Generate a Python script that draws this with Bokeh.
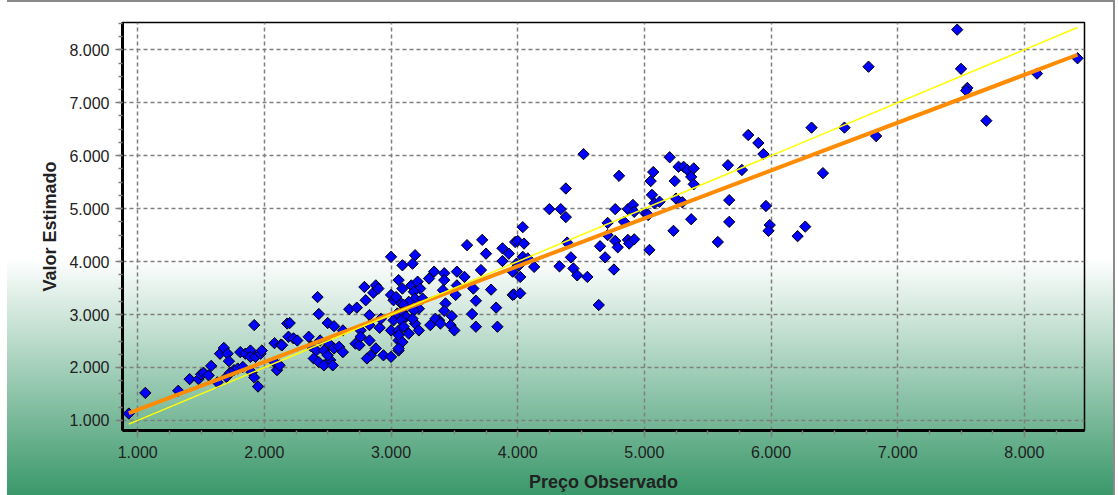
from bokeh.plotting import figure
from bokeh.models import Range1d, SingleIntervalTicker
from bokeh.embed import file_html
from bokeh.resources import INLINE
import numpy as np

# Observed price (x) and estimated value (y)
obs = [930, 1060, 1320, 1410, 1480, 1500, 1520, 1560, 1580, 1630, 1650, 1680, 1710, 1720, 1700, 1730,
       1760, 1790, 1830, 1810, 1850, 1890, 1890, 1930, 1970, 1980, 1920, 1900, 1920, 1950, 2080, 2130,
       2080, 2100, 2120, 2180, 2190, 3000, 2420, 2200, 2430, 2670, 2730, 2790, 2880, 2860, 2900, 2800,
       2830, 2500, 2550, 2620, 2760, 2830, 2910, 2920, 3000, 3020, 2230, 2260, 2350, 2140, 2370, 2410,
       2440, 2470, 2510, 2550, 2590, 2620, 2390, 2430, 2470, 2520, 2540, 2500, 2720, 2750, 2830, 2760,
       2880, 2840, 2810, 2940, 3000, 3060, 3060, 3060, 3050, 3080, 3020, 3000, 3040, 3060, 3090, 3600,
       3720, 3750, 3880, 3930, 3880, 3980, 3090, 3170, 3190, 3160, 3210, 3230, 3180, 3190, 3250, 3140,
       3100, 3220, 3180, 3090, 3120, 3080, 3190, 3170, 3220, 3140, 3100, 3060, 3090, 3060, 3300, 3340,
       3420, 3420, 3520, 3580, 3710, 3520, 3410, 3510, 3650, 3790, 3670, 3430, 3420, 3480, 3380, 3350,
       3310, 3390, 3470, 3500, 3640, 3670, 3830, 3840, 3960, 3960, 3990, 4520, 5200, 4800, 4380, 4250,
       4340, 4380, 4040, 4000, 4050, 4040, 4080, 4010, 4130, 4020, 3970, 4020, 4390, 4420, 4330, 4440,
       4470, 4550, 4640, 4650, 4690, 4760, 4710, 4710, 4770, 4770, 4790, 4840, 4870, 4880, 4920, 4870,
       4910, 4920, 5010, 5040, 5030, 5060, 5080, 5050, 5070, 5120, 5240, 5250, 5300, 5270, 5310, 5340,
       5390, 5370, 5390, 5370, 5230, 5820, 5900, 5940, 5660, 5770, 5670, 5960, 5670, 5580, 5990, 5980,
       6210, 6270, 6320, 6580, 6830, 6410, 7470, 7500, 7550, 7540, 7700, 8100, 8420, 6770]
est = [1130, 1520, 1560, 1780, 1780, 1870, 1900, 1850, 2030, 1720, 2260, 2370, 2260, 2120, 1820, 1900,
       1950, 1980, 2010, 2290, 2260, 2320, 2200, 2200, 2260, 2320, 2800, 1910, 1810, 1640, 2460, 2430,
       2100, 1950, 2040, 2830, 2580, 4090, 3330, 2840, 3010, 3100, 3130, 3520, 3550, 3410, 3490, 3270,
       2990, 2840, 2780, 2700, 2700, 2800, 2750, 2920, 2700, 2890, 2550, 2510, 2580, 2420, 2400, 2320,
       2510, 2320, 2450, 2360, 2390, 2290, 2170, 2100, 2040, 2140, 2040, 2230, 2450, 2420, 2510, 2580,
       2360, 2230, 2170, 2230, 2200, 2320, 2510, 2700, 3020, 3210, 3270, 3370, 3330, 3650, 3490, 4310,
       4410, 4150, 4250, 4150, 4010, 4370, 3930, 3960, 4120, 3550, 3620, 3490, 3430, 3300, 3300, 3240,
       3180, 3110, 3080, 3050, 2960, 2890, 2830, 2920, 2700, 2640, 2770, 2610, 2480, 2360, 3680, 3810,
       3780, 3650, 3810, 3710, 3840, 3550, 3460, 3370, 3490, 3470, 3260, 3210, 3070, 2970, 2890, 2920,
       2800, 2830, 2800, 2700, 3010, 2770, 3130, 2770, 3370, 3810, 3960, 6030, 5970, 5620, 5380, 4990,
       4990, 4840, 4650, 4390, 4340, 4090, 4060, 3930, 3900, 3710, 3380, 3400, 4360, 4080, 3910, 3870,
       3740, 3710, 3180, 4290, 4080, 3850, 4500, 4730, 4990, 4390, 4270, 4750, 4410, 4340, 4420, 4990,
       5070, 4940, 4910, 4220, 4880, 5260, 5100, 5520, 5690, 5130, 5520, 5190, 5120, 5790, 5790, 5730,
       5760, 5600, 5460, 4800, 4580, 6390, 6240, 6030, 5820, 5730, 5160, 5050, 4750, 4370, 4690, 4580,
       4480, 4660, 6530, 6530, 6370, 5670, 8380, 7640, 7280, 7230, 6660, 7550, 7840, 7680]

# Fitted line (orange) and identity line (yellow), end points
fit_x = [930, 8420]
fit_y = [1136, 7906]
ident_x = [930, 8420]
ident_y = [930, 8420]

tick_values = [1000, 2000, 3000, 4000, 5000, 6000, 7000, 8000]
tick_labels = ["1.000", "2.000", "3.000", "4.000", "5.000", "6.000", "7.000", "8.000"]

W, H = 1118, 495
p = figure(width=W, height=H, output_backend="svg", toolbar_location=None,
           x_range=Range1d(880, 8475), y_range=Range1d(810, 8515),
           min_border_left=122, min_border_right=34, min_border_top=22, min_border_bottom=65)

p.background_fill_color = None
p.border_fill_color = None
p.outline_line_color = "black"
p.outline_line_width = 1.5

bg = ("linear-gradient(to right, #ffffff 0px, #ffffff 7px, transparent 7px, transparent 1113px, "
      "#8a8a8a 1113px, #8a8a8a 1115px, #ffffff 1115px), "
      "linear-gradient(to bottom, #8a8a8a 0px, #8a8a8a 2px, transparent 2px), "
      "linear-gradient(to bottom, #ffffff 0px, #ffffff 258px, #3a986a 495px)")
p.styles = {"background": bg}

for ax in (p.xaxis[0], p.yaxis[0]):
    ax.ticker = SingleIntervalTicker(interval=1000, num_minor_ticks=4)
    ax.major_label_overrides = {v: l for v, l in zip(tick_values, tick_labels)}
    ax.axis_line_color = "black"
    ax.axis_line_width = 3
    ax.major_tick_in = 0
    ax.major_tick_out = 7
    ax.major_tick_line_color = "#7f7f7f"
    ax.major_tick_line_width = 1.5
    ax.minor_tick_in = 0
    ax.minor_tick_out = 4
    ax.minor_tick_line_color = "#7f7f7f"
    ax.minor_tick_line_width = 1.5
    ax.major_label_text_font = "Liberation Sans"
    ax.major_label_text_font_size = "16px"
    ax.major_label_text_color = "#222222"
    ax.axis_label_text_font = "Liberation Sans"
    ax.axis_label_text_font_style = "bold"
    ax.axis_label_text_font_size = "18px"
    ax.axis_label_text_color = "#222222"

p.xaxis.axis_label = "Preço Observado"
p.yaxis.axis_label = "Valor Estimado"
p.xaxis.major_label_standoff = 8
p.yaxis.major_label_standoff = 6
p.xaxis.axis_label_standoff = 11
p.yaxis.axis_label_standoff = 6

for g in (p.xgrid[0], p.ygrid[0]):
    g.grid_line_color = "#7f7f7f"
    g.grid_line_dash = "4 3"
    g.grid_line_width = 1.5

p.scatter(obs, est, marker="square", angle=np.pi / 4, size=8,
          fill_color="#0000ff", line_color="black", line_width=1)
p.line(fit_x, fit_y, line_color="#ff8c00", line_width=4)
p.line(ident_x, ident_y, line_color="#ffff00", line_width=1.5)

open("out.html", "w").write(file_html(p, INLINE))
